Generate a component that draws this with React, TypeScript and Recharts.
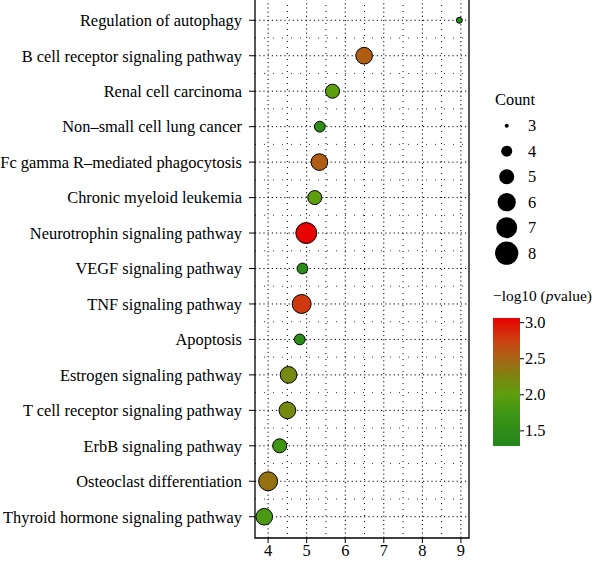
import React from "react";
import { ScatterChart, Scatter, XAxis, YAxis, ZAxis, CartesianGrid, ReferenceArea, Cell } from "recharts";

// pathways, top to bottom as drawn
const PATHWAYS = [
    "Regulation of autophagy",
    "B cell receptor signaling pathway",
    "Renal cell carcinoma",
    "Non\u2013small cell lung cancer",
    "Fc gamma R\u2013mediated phagocytosis",
    "Chronic myeloid leukemia",
    "Neurotrophin signaling pathway",
    "VEGF signaling pathway",
    "TNF signaling pathway",
    "Apoptosis",
    "Estrogen signaling pathway",
    "T cell receptor signaling pathway",
    "ErbB signaling pathway",
    "Osteoclast differentiation",
    "Thyroid hormone signaling pathway",
];
const ENRICHMENT = [8.96, 6.49, 5.67, 5.34, 5.33, 5.21, 4.99, 4.89, 4.87, 4.82, 4.53, 4.5, 4.3, 4.0, 3.9];
const COUNTS = [3, 6, 5, 4, 6, 5, 8, 4, 7, 4, 6, 6, 5, 7, 6];
const NEG_LOG_P = [1.35, 2.55, 2.0, 1.5, 2.55, 2.0, 3.05, 1.45, 2.8, 1.45, 2.2, 2.2, 1.75, 2.4, 1.85];

const X_TICKS = [4, 5, 6, 7, 8, 9];
const X_MINOR = [4.5, 5.5, 6.5, 7.5, 8.5];
const COUNT_LEGEND = [3, 4, 5, 6, 7, 8];
const P_TICKS = [3.0, 2.5, 2.0, 1.5];

const P_MIN = 1.29;
const P_MAX = 3.065;
// colour stops along the -log10(p) scale
const COLOR_STOPS: [number, string][] = [
    [1.29, "#24861c"],
    [1.5, "#2e8c18"],
    [1.75, "#3f9614"],
    [2.0, "#5c9e0e"],
    [2.25, "#7c8410"],
    [2.5, "#a86414"],
    [2.75, "#cc4210"],
    [3.065, "#e80000"],
];

const FONT = "Liberation Serif";
const FS = 16.4;

function hex(c: string) {
    return [1, 3, 5].map((i) => parseInt(c.slice(i, i + 2), 16));
}

function colorFor(v: number) {
    if (v <= COLOR_STOPS[0][0]) return COLOR_STOPS[0][1];
    for (let i = 1; i < COLOR_STOPS.length; i++) {
        const [v1, c1] = COLOR_STOPS[i];
        const [v0, c0] = COLOR_STOPS[i - 1];
        if (v <= v1) {
            const t = (v - v0) / (v1 - v0);
            const a = hex(c0), b = hex(c1);
            const m = a.map((x, k) => Math.round(x + (b[k] - x) * t));
            return `rgb(${m[0]},${m[1]},${m[2]})`;
        }
    }
    return COLOR_STOPS[COLOR_STOPS.length - 1][1];
}

const N = PATHWAYS.length;
const data = PATHWAYS.map((name, i) => ({
    name,
    row: N - i,
    x: ENRICHMENT[i],
    count: COUNTS[i],
    p: NEG_LOG_P[i],
}));
const ROWS = data.map((d) => d.row);
const HALF_ROWS = ROWS.slice(1).map((r) => r + 0.5);

// legend key radius (area linear in count)
function legendRadius(c: number) {
    const a = 12.6 + ((c - 3) / 5) * (426 - 12.6);
    return Math.sqrt(a / Math.PI);
}

export default function App() {
    const barTop = 318;
    const barH = 128;
    const gradient = `linear-gradient(to top, ${COLOR_STOPS.map(
        ([v, c]) => `${c} ${(((v - P_MIN) / (P_MAX - P_MIN)) * 100).toFixed(1)}%`
    ).join(", ")})`;

    return (
        <div style={{ position: "absolute", left: 0, top: 0, width: 596, height: 562, background: "#fff", fontFamily: FONT, overflow: "hidden" }}>
            <ScatterChart width={596} height={562} margin={{ top: -1, right: 127, bottom: 0, left: 0 }} style={{ fontFamily: FONT }}>
                <CartesianGrid horizontal={false} verticalValues={X_MINOR} stroke="#000" strokeDasharray="1 5" strokeWidth={1} />
                <CartesianGrid vertical={false} horizontalValues={HALF_ROWS} stroke="#000" strokeDasharray="1 8" strokeWidth={0.8} />
                <CartesianGrid verticalValues={X_TICKS} horizontalValues={ROWS} stroke="#000" strokeDasharray="1.2 3" strokeWidth={1} />
                <XAxis
                    type="number"
                    dataKey="x"
                    domain={[3.66, 9.21]}
                    ticks={X_TICKS}
                    allowDataOverflow
                    height={24}
                    tickSize={5}
                    tickMargin={1}
                    axisLine={false}
                    tickLine={{ stroke: "#000", strokeWidth: 1 }}
                    tick={{ fill: "#000", fontSize: FS, fontFamily: FONT }}
                />
                <YAxis
                    type="number"
                    dataKey="row"
                    domain={[0.4, 15.6]}
                    ticks={ROWS}
                    allowDataOverflow
                    width={255}
                    tickSize={6}
                    tickMargin={7}
                    axisLine={false}
                    tickLine={{ stroke: "#000", strokeWidth: 1 }}
                    tick={{ fill: "#000", fontSize: FS, fontFamily: FONT }}
                    tickFormatter={(v: number) => PATHWAYS[N - v] ?? ""}
                />
                <ZAxis type="number" dataKey="count" domain={[3, 8]} range={[28, 346]} />
                <ReferenceArea x1={3.66} x2={9.21} y1={0.4} y2={15.6} fill="none" stroke="#000" strokeWidth={1.3} ifOverflow="visible" />
                <Scatter data={data} stroke="#000" strokeWidth={1} isAnimationActive={false}>
                    {data.map((d) => (
                        <Cell key={d.name} fill={colorFor(d.p)} />
                    ))}
                </Scatter>
            </ScatterChart>

            {/* size legend */}
            <div style={{ position: "absolute", left: 495, top: 90, fontSize: FS, color: "#000" }}>Count</div>
            <svg style={{ position: "absolute", left: 490, top: 112 }} width={70} height={160}>
                {COUNT_LEGEND.map((c, i) => {
                    const cy = 13.7 + i * 25.5;
                    return (
                        <g key={c}>
                            <circle cx={16.7} cy={cy} r={legendRadius(c)} fill="#000" />
                            <text x={38} y={cy + 5.5} fontSize={FS} fontFamily={FONT} fill="#000">{c}</text>
                        </g>
                    );
                })}
            </svg>

            {/* colour legend */}
            <div style={{ position: "absolute", left: 493, top: 287, fontSize: 15.4, color: "#000", whiteSpace: "nowrap" }}>
                {"\u2212log10 ("}<i>p</i>{"value)"}
            </div>
            <div style={{ position: "absolute", left: 493, top: barTop, width: 27, height: barH, background: gradient }} />
            <svg style={{ position: "absolute", left: 518, top: barTop - 8 }} width={70} height={barH + 16}>
                {P_TICKS.map((v) => {
                    const y = 8 + ((P_MAX - v) / (P_MAX - P_MIN)) * barH;
                    return (
                        <g key={v}>
                            <line x1={2} x2={6} y1={y} y2={y} stroke="#000" strokeWidth={1} />
                            <text x={7} y={y + 5.5} fontSize={FS} fontFamily={FONT} fill="#000">{v.toFixed(1)}</text>
                        </g>
                    );
                })}
            </svg>
        </div>
    );
}
